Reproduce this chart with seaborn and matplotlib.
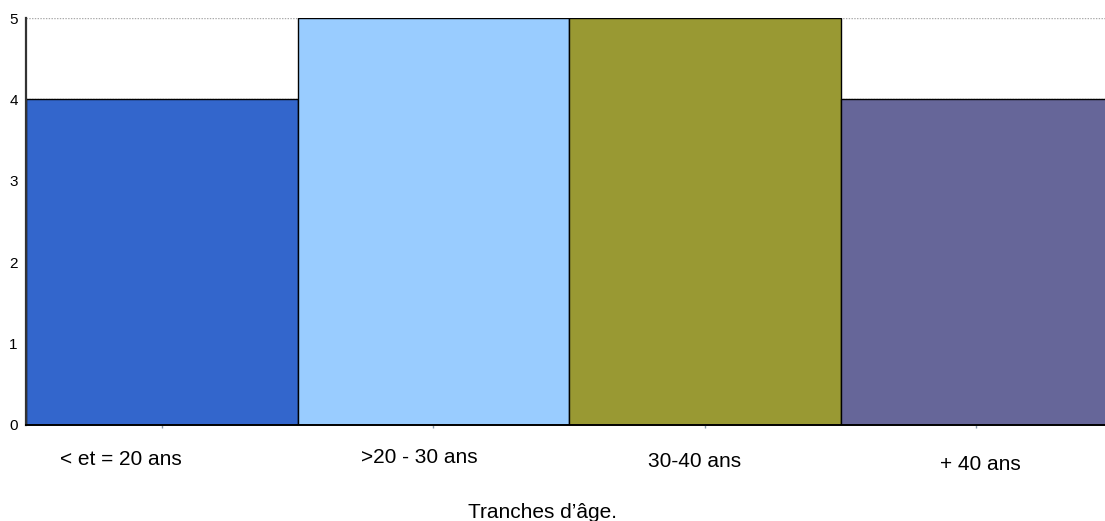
import matplotlib
matplotlib.use("Agg")
import matplotlib.pyplot as plt
from matplotlib.transforms import ScaledTranslation, blended_transform_factory
import seaborn as sns
import pandas as pd

# Age groups and their counts
categories = ["< et = 20 ans", ">20 - 30 ans", "30-40 ans", "+ 40 ans"]
counts = [4, 5, 5, 4]
bar_colors = ["#3366CC", "#99CCFF", "#999933", "#666699"]
y_ticks = [0, 1, 2, 3, 4, 5]
x_title = "Tranches d\u2019âge."

sns.set_theme(style="white")
plt.rcParams["font.family"] = ["Liberation Sans", "DejaVu Sans"]

df = pd.DataFrame({"tranche": categories, "effectif": counts})

fig = plt.figure(figsize=(11.05, 5.21), dpi=100)
ax = fig.add_axes([26 / 1105, 96 / 521, 1086 / 1105, 407 / 521])

sns.barplot(data=df, x="tranche", y="effectif", hue="tranche",
            palette=bar_colors, saturation=1, width=1.0, edgecolor="black",
            linewidth=1.0, legend=False, ax=ax, zorder=3)

ax.set_xlim(-0.5, len(categories) - 0.5)
ax.set_ylim(0, 5)
ax.set_yticks(y_ticks)
ax.yaxis.grid(True, linestyle=(0, (1, 1)), color="#aaaaaa", linewidth=1.0, zorder=0)
ax.xaxis.grid(False)
ax.set_axisbelow(True)

for side in ("top", "right"):
    ax.spines[side].set_visible(False)
ax.spines["left"].set_color("#333333")
ax.spines["left"].set_linewidth(1.6)
ax.spines["bottom"].set_color("black")
ax.spines["bottom"].set_linewidth(1.4)
ax.spines["left"].set_zorder(4)
ax.spines["bottom"].set_zorder(4)

ax.tick_params(axis="y", length=0, pad=6, labelsize=11, labelcolor="black")
ax.tick_params(axis="x", bottom=True, length=2, width=1, color="#8899aa",
               labelbottom=False)
ax.set_xlabel("")
ax.set_ylabel("")

# Category labels, staggered below the axis (offsets in pixels)
label_offsets = [(-41, 40), (-14, 38), (-10, 42), (4, 45)]
trans_base = blended_transform_factory(ax.transData, ax.transAxes)
for i, (name, (dx, dy)) in enumerate(zip(categories, label_offsets)):
    t = trans_base + ScaledTranslation(dx / 100, -dy / 100, fig.dpi_scale_trans)
    ax.text(i, 0, name, transform=t, ha="center", va="baseline",
            fontsize=15, color="black", clip_on=False)

fig.text(542 / 1105, 3 / 521, x_title, ha="center", va="baseline",
         fontsize=15, color="black")

fig.savefig("out.png", dpi=100, facecolor="white")
